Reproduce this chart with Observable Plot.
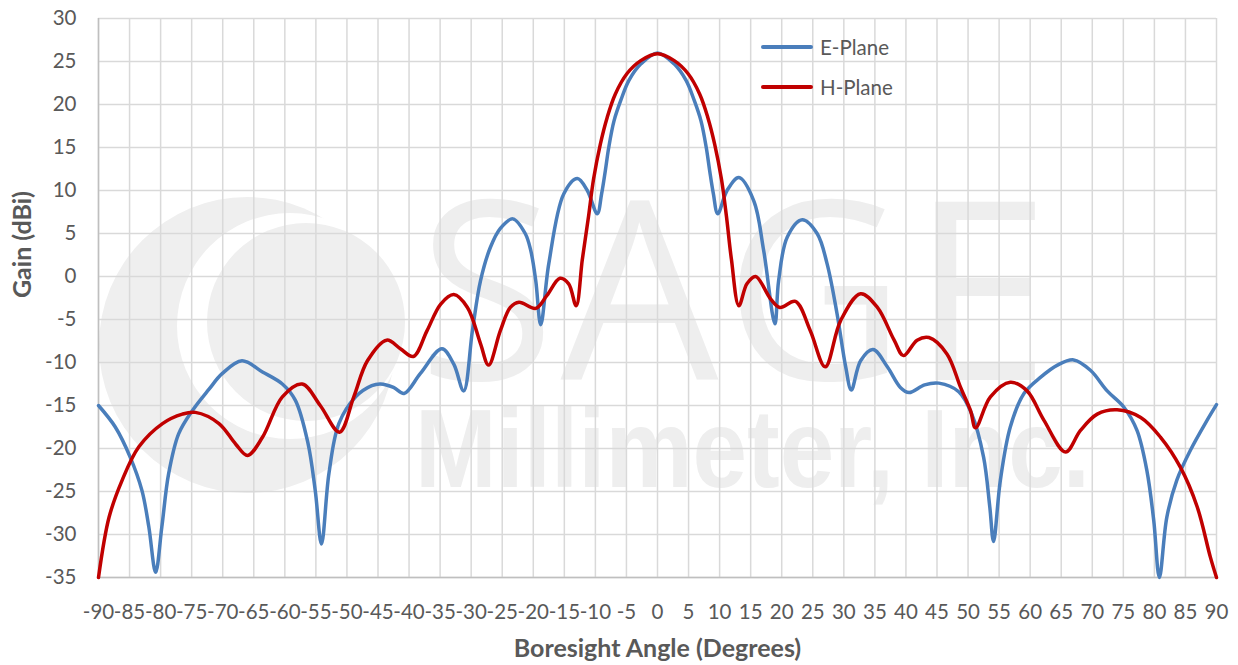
<!DOCTYPE html>
<html><head><meta charset="utf-8">
<script src="https://cdn.jsdelivr.net/npm/d3@7"></script>
<script src="https://cdn.jsdelivr.net/npm/@observablehq/plot@0.6"></script>
<style>
html,body{margin:0;padding:0;background:#fff;}
#wrap{position:relative;width:1238px;height:665px;overflow:hidden;font-family:Lato,sans-serif;}
#wm{position:absolute;left:0;top:0;}
#chart{position:absolute;left:0;top:0;}
.lg{position:absolute;left:761px;height:30px;display:flex;align-items:center;color:#595959;font:20.5px Lato,sans-serif;white-space:nowrap;}
.lg span.sw{display:inline-block;width:52px;height:3.5px;border-radius:2px;margin-right:7px;}
</style></head><body>
<div id="wrap">
<svg id="wm" width="1238" height="665" xmlns="http://www.w3.org/2000/svg">
  <circle cx="247" cy="345" r="148" fill="#efefef"/>
  <circle cx="290" cy="326" r="113" fill="#ffffff"/>
  <circle cx="306" cy="322" r="99" fill="#efefef"/>
  <text fill="#eeeeee"><tspan x="418" y="380" font-family="Open Sans" font-size="250" textLength="632" lengthAdjust="spacing">SAGE</tspan><tspan x="415" y="487" font-family="Liberation Sans" font-weight="bold" font-size="112" textLength="675" lengthAdjust="spacingAndGlyphs">Millimeter, Inc.</tspan></text>
</svg>
<div id="chart"></div>
<div class="lg" style="top:32px"><span class="sw" style="background:#4a7ebb"></span>E-Plane</div>
<div class="lg" style="top:72px"><span class="sw" style="background:#c00000"></span>H-Plane</div>
</div>
<script>
// Tick values
const xTicks = [-90,-85,-80,-75,-70,-65,-60,-55,-50,-45,-40,-35,-30,-25,-20,-15,-10,-5,0,5,10,15,20,25,30,35,40,45,50,55,60,65,70,75,80,85,90];
const yTicks = [-35,-30,-25,-20,-15,-10,-5,0,5,10,15,20,25,30];

// E-Plane (blue)
const eAngle = [-90,-87.3,-84.9,-83,-81.9,-80.8,-79.8,-78.7,-77.1,-74.9,-72.2,-70.1,-66.9,-63.6,-60.4,-58.3,-56.3,-55.1,-54.1,-52.9,-51.3,-48.6,-46,-44.6,-42.5,-40.8,-38.2,-34.7,-32.8,-31.2,-29.8,-28.5,-26.9,-25.3,-23.3,-21.3,-20.4,-19.6,-18.8,-17.5,-15.1,-12.9,-11.3,-9.7,-9.0,-8.4,-7.85,-7.0,-5.9,-4.6,-2.7,0,2.7,4.6,5.9,7.0,7.85,8.4,9.0,9.7,11.2,13.1,15.5,17.1,18.9,19.5,20.9,23.3,25.7,27.3,28.9,30.3,31.2,32.7,34.7,37,39.1,40.5,43,45.3,48.5,50.6,52.5,53.5,54.1,55.2,56.8,59,61.7,64.4,67,69.7,72.4,75.1,77.2,78.8,79.9,80.8,82,83.6,85.8,88.5,90];
const eGain = [-15.0,-17.5,-21.0,-24.9,-29.1,-34.4,-29.1,-22.9,-18.3,-15.6,-13.1,-11.3,-9.8,-11.1,-12.5,-14.4,-19.3,-24.9,-31.1,-22.9,-17.1,-14.0,-12.7,-12.5,-12.9,-13.6,-11.3,-8.4,-10.2,-13.3,-6.3,-0.5,3.4,5.6,6.7,5.0,3.0,-0.5,-5.6,1.5,9.6,11.4,10.0,7.3,9.6,12.3,15.0,18.1,20.5,22.8,24.7,26.0,24.7,22.8,20.5,18.1,15.0,12.3,9.6,7.3,10.0,11.5,8.8,3.0,-5.5,-0.5,4.6,6.6,5.0,1.5,-4.3,-10.5,-13.2,-9.8,-8.5,-10.5,-12.9,-13.5,-12.6,-12.4,-13.4,-16.0,-21.0,-26.8,-30.8,-23.7,-17.5,-13.6,-11.7,-10.3,-9.7,-10.9,-13.3,-15.2,-17.9,-22.6,-28.4,-35.0,-28.0,-23.7,-20.2,-16.7,-14.9];

// H-Plane (red)
const hAngle = [-90,-88.3,-86.2,-83.5,-79.7,-76.5,-74.4,-70.6,-67.9,-66,-63.6,-60.4,-57.2,-54.3,-51.2,-48.9,-46.7,-43.6,-41.4,-39.3,-37.1,-34.9,-32.8,-30.6,-28.5,-27.2,-25.3,-23.7,-22.3,-19.6,-17.8,-15.7,-14.3,-13.1,-12.1,-11.1,-10.3,-9.2,-8.1,-6.8,-4.9,-2.7,0,2.7,4.9,6.8,8.1,9.2,10.3,11.1,11.9,13.1,14.4,15.8,18.2,19.7,22.2,24.6,27,29.5,32.7,35.4,38.1,39.6,41.8,43.7,46.6,48.8,50.4,51.2,53.6,56.8,59.5,62.2,65.7,68.1,70.8,74,77.8,81,84.2,86.9,89,90];
const hGain = [-35,-28.0,-23.7,-19.8,-17.1,-16.0,-15.8,-17.1,-19.5,-20.8,-18.7,-14.0,-12.5,-15.0,-18.1,-14.0,-9.8,-7.4,-8.4,-9.3,-6.3,-3.2,-2.1,-3.6,-7.8,-10.3,-6.3,-3.6,-3.0,-3.7,-2.2,-0.2,-0.85,-3.4,2.0,7.0,11.3,15.4,18.5,21.2,23.6,25.1,25.9,25.1,23.6,21.2,18.5,15.4,11.3,7.0,2.0,-3.4,-0.85,0.0,-2.6,-3.6,-2.9,-6.3,-10.5,-5.1,-2.0,-3.6,-7.4,-9.2,-7.4,-7.1,-9.0,-12.9,-15.6,-17.6,-14.0,-12.3,-13.3,-16.7,-20.4,-17.9,-16.0,-15.5,-16.4,-18.7,-22.2,-26.8,-32.6,-35];

const eData = eAngle.map((a, i) => ({angle: a, gain: eGain[i]}));
const hData = hAngle.map((a, i) => ({angle: a, gain: hGain[i]}));

const textColor = "#595959";
const chart = Plot.plot({
  width: 1238,
  height: 665,
  marginLeft: 98,
  marginRight: 22,
  marginTop: 18,
  marginBottom: 88,
  style: {background: "transparent", fontFamily: "Lato, sans-serif", color: textColor, overflow: "visible"},
  x: {domain: [-90, 90]},
  y: {domain: [-35, 30]},
  marks: [
    Plot.gridX(xTicks, {stroke: "#d9d9d9", strokeOpacity: 1, strokeWidth: 1.5}),
    Plot.gridY(yTicks, {stroke: "#d9d9d9", strokeOpacity: 1, strokeWidth: 1.5}),
    Plot.ruleX([-90], {stroke: "#bfbfbf", strokeWidth: 1.5}),
    Plot.ruleY([-35], {stroke: "#bfbfbf", strokeWidth: 1.5}),
    Plot.axisX(xTicks, {tickSize: 0, tickPadding: 27, tickFormat: d => String(d), label: null, fontSize: 20.5, fill: textColor}),
    Plot.axisY(yTicks, {tickSize: 0, tickPadding: 22, tickFormat: d => String(d), label: null, fontSize: 20.5, fill: textColor}),
    Plot.text(["Boresight Angle (Degrees)"], {text: d => d, frameAnchor: "bottom", dy: 79, fontWeight: "bold", fontSize: 25, fill: textColor}),
    Plot.text(["Gain (dBi)"], {text: d => d, frameAnchor: "left", dx: -76, rotate: -90, fontWeight: "bold", fontSize: 25, fill: textColor}),
    Plot.line(eData, {x: "angle", y: "gain", stroke: "#4a7ebb", strokeWidth: 3.5, curve: "catmull-rom"}),
    Plot.line(hData, {x: "angle", y: "gain", stroke: "#c00000", strokeWidth: 3.5, curve: "catmull-rom"})
  ]
});
document.getElementById("chart").appendChild(chart);
</script>
</body></html>
